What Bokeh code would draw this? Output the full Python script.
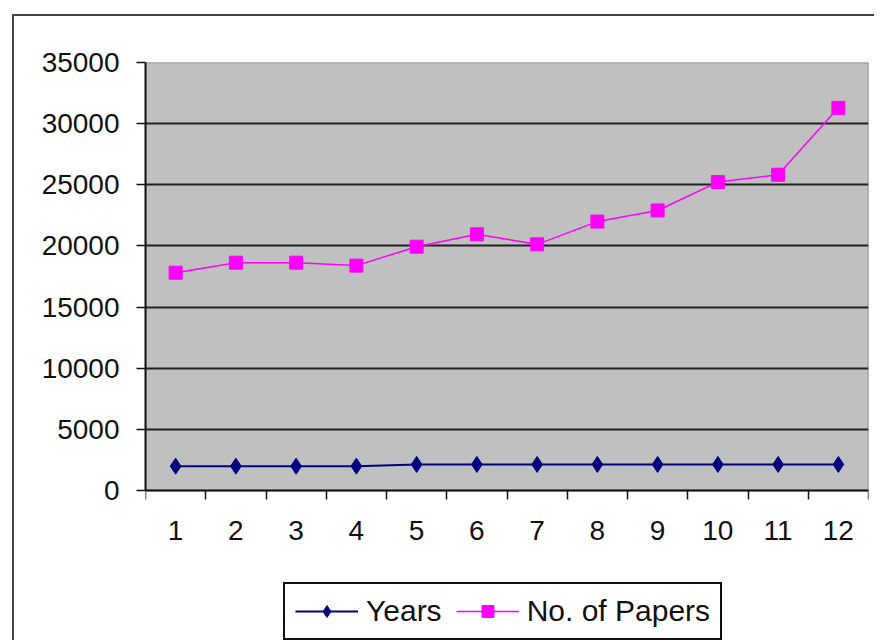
from bokeh.plotting import figure
from bokeh.models import Range1d, FixedTicker, Legend, LegendItem
from bokeh.embed import file_html
from bokeh.resources import INLINE

# ---- data ----
categories = [1, 2, 3, 4, 5, 6, 7, 8, 9, 10, 11, 12]
years = [1992, 1992, 1992, 1992, 2131, 2131, 2131, 2131, 2131, 2131, 2131, 2131]
papers = [17810, 18630, 18630, 18390, 19940, 20950, 20130, 21990, 22900, 25220, 25820, 31290]
y_ticks = [0, 5000, 10000, 15000, 20000, 25000, 30000, 35000]

FONT = "Liberation Sans"
Y_MAX = y_ticks[-1]
# the frame extends below zero to hold the legend (428 px for the value span, 152 px below)
Y_MIN = -Y_MAX * 152 / 428
X_MIN, X_MAX = categories[0] - 0.5, categories[-1] + 0.5

p = figure(width=862, height=626, output_backend="svg", toolbar_location=None,
           x_range=Range1d(X_MIN, X_MAX), y_range=Range1d(Y_MIN, Y_MAX),
           min_border_left=131, min_border_top=46, min_border_right=8, min_border_bottom=0,
           background_fill_color="white", border_fill_color="white",
           outline_line_color=None)
p.margin = (14, 0, 0, 12)
p.styles = {"border-top": "2px solid #444444", "border-left": "2px solid #444444"}

# gray plot area
p.quad(left=X_MIN, right=X_MAX, bottom=0, top=Y_MAX, fill_color="#C0C0C0",
       line_color="#808080", line_width=1.5, level="image")

# axes
boundaries = [c - 0.5 for c in categories] + [categories[-1] + 0.5]
p.xaxis.ticker = FixedTicker(ticks=categories, minor_ticks=boundaries)
p.xaxis.fixed_location = 0
p.yaxis.ticker = FixedTicker(ticks=y_ticks, minor_ticks=[])
p.yaxis.bounds = (0, Y_MAX)
for ax in (p.xaxis, p.yaxis):
    ax.axis_line_color = "#111111"
    ax.axis_line_width = 2
    ax.major_label_text_font = FONT
    ax.major_label_text_font_size = "28px"
    ax.major_label_text_color = "#111111"
p.xaxis.major_tick_out = 0
p.xaxis.major_tick_in = 0
p.xaxis.minor_tick_out = 9
p.xaxis.minor_tick_in = 0
p.xaxis.minor_tick_line_color = "#111111"
p.xaxis.minor_tick_line_width = 1.5
p.xaxis.major_label_standoff = 21
p.yaxis.major_tick_out = 9
p.yaxis.major_tick_in = 0
p.yaxis.major_tick_line_color = "#111111"
p.yaxis.major_tick_line_width = 1.5
p.yaxis.minor_tick_out = 0
p.yaxis.minor_tick_in = 0
p.yaxis.major_label_standoff = 17

p.xgrid.visible = False
p.ygrid.ticker = FixedTicker(ticks=y_ticks[1:-1], minor_ticks=[])
p.ygrid.grid_line_color = "#222222"
p.ygrid.grid_line_width = 2

# series
l1 = p.line(categories, years, line_color="#000080", line_width=2)
s1 = p.scatter(categories, years, marker="diamond", size=16, fill_color="#000080", line_color="#000080")
l2 = p.line(categories, papers, line_color="#FF00FF", line_width=1.5)
s2 = p.scatter(categories, papers, marker="square", size=13, fill_color="#FF00FF", line_color="#FF00FF")

legend = Legend(items=[LegendItem(label="Years", renderers=[l1, s1]),
                       LegendItem(label="No. of Papers", renderers=[l2, s2])],
                orientation="horizontal", location=(138, 2),
                border_line_color="#111111", border_line_width=2, border_line_alpha=1,
                background_fill_color="white", background_fill_alpha=1,
                padding=10, margin=0, spacing=14, label_standoff=8,
                glyph_width=63, glyph_height=30, label_height=30,
                label_text_font=FONT, label_text_font_size="30px",
                label_text_color="#111111")
p.add_layout(legend, "center")

open("out.html", "w").write(file_html(p, INLINE))
